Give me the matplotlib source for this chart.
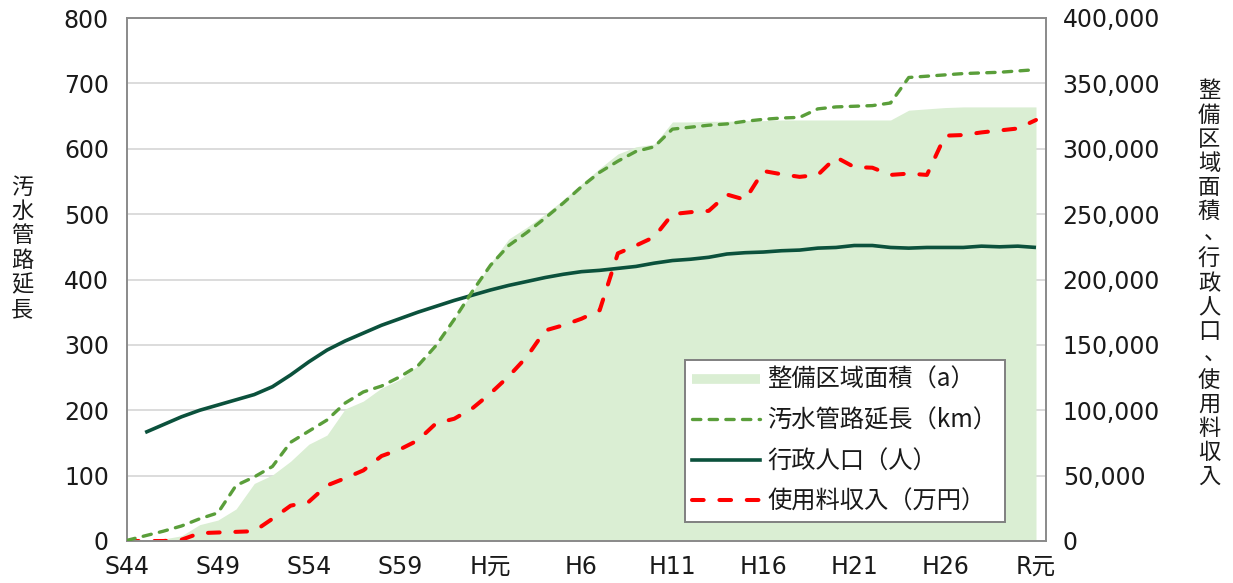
import matplotlib
matplotlib.use('Agg')
import numpy as np
import matplotlib.pyplot as plt
from matplotlib.lines import Line2D
from matplotlib.ticker import FuncFormatter, MultipleLocator
from matplotlib.font_manager import FontProperties

plt.rcParams['font.family'] = ['DejaVu Sans', 'Noto Sans CJK JP']

# ---------------- data ----------------
x_tick_labels = ['S44', 'S49', 'S54', 'S59', 'H元', 'H6', 'H11', 'H16', 'H21', 'H26', 'R元']
years = list(range(51))          # S44 (1969) ... R元 (2019)

# 汚水管路延長 (km) - left axis
sewer_km = [1, 8, 15, 23, 34, 43, 85, 98, 114, 151,
            168, 185, 211, 228, 237, 251, 268, 299, 339, 382,
            422, 452, 472, 494, 517, 542, 564, 581, 596, 603,
            630, 633, 636, 638, 642, 645, 647, 648, 661, 664,
            665, 666, 670, 709, 711, 713, 715, 716, 717, 719, 721]

# 整備区域面積 (a) - right axis
area_a = [0, 500, 1500, 4000, 12500, 16000, 24500, 44000, 50500, 61000,
          74000, 81000, 101000, 107000, 117000, 123500, 134000, 148500, 170000, 190000,
          212500, 231000, 240000, 250000, 261000, 273000, 285000, 296000, 301500, 303500,
          320500, 320500, 321000, 321000, 321500, 321500, 322000, 322000, 322000, 322000,
          322000, 322000, 322000, 329500, 330500, 331500, 332000, 332000, 332000, 332000, 332000]

# 行政人口 (人) - right axis (no value for S44)
population = [np.nan, 83000, 89000, 95000, 100000, 104000, 108000, 112000, 118000, 127000,
              137000, 146000, 153000, 159000, 165000, 170000, 175000, 179500, 184000, 188000,
              192000, 195500, 198500, 201500, 204000, 206000, 207000, 208500, 210000, 212500,
              214500, 215500, 217000, 219500, 220500, 221000, 222000, 222500, 224000, 224500,
              226000, 226000, 224500, 224000, 224500, 224500, 224500, 225500, 225000, 225500, 224500]

# 使用料収入 (万円) - right axis
revenue = [0, 0, 0, 1000, 6000, 6500, 7000, 7500, 17000, 27000,
           30000, 42500, 48000, 54000, 65000, 70000, 77000, 90000, 93500, 101500,
           113000, 126000, 141000, 161000, 165000, 170000, 176500, 220000, 226000, 232500,
           250000, 251500, 252500, 265000, 261000, 283000, 280500, 278500, 280000, 293500,
           286000, 285500, 280000, 281000, 280000, 310000, 310500, 312500, 314000, 315500, 322000]

series_labels = ['整備区域面積（a）', '汚水管路延長（km）', '行政人口（人）', '使用料収入（万円）']
left_title = '汚水管路延長'
right_title = '整備区域面積、行政人口、使用料収入'

# ---------------- style ----------------
FILL_C = '#daeed3'
GREEN_C = '#5a9e3a'
DARK_C = '#0b513c'
RED_C = '#ff0000'
SPINE_C = '#8a8a8a'
GRID_C = '#d9d9d9'
TXT_C = '#1a1a1a'

W, H = 1233, 583
fig = plt.figure(figsize=(W / 100, H / 100), dpi=100)
ax1 = fig.add_axes([127 / W, 42 / H, 919 / W, 523 / H])
ax2 = ax1.twinx()
ax1.set_zorder(2)
ax1.patch.set_visible(False)
ax2.set_zorder(1)

# back axes: grid, area, population, revenue
ax2.set_axisbelow(True)
ax2.yaxis.grid(True, color=GRID_C, lw=1.3)
ax2.fill_between(years, 0, area_a, color=FILL_C, lw=0, zorder=1)
ax2.plot(years, population, color=DARK_C, lw=2.6, zorder=3, solid_capstyle='butt')
ax2.plot(years, revenue, color=RED_C, lw=2.9, dashes=(2.9, 3.9),
         dash_capstyle='round', zorder=4)

# front axes: sewer length
ax1.plot(years, sewer_km, color=GREEN_C, lw=2.4, dashes=(2.5, 2.5),
         dash_capstyle='round', zorder=3)

xmax = 50.55
ax1.set_xlim(0, xmax)
ax2.set_xlim(0, xmax)
ax1.set_ylim(0, 800)
ax2.set_ylim(0, 400000)
ax1.yaxis.set_major_locator(MultipleLocator(100))
ax2.yaxis.set_major_locator(MultipleLocator(50000))
ax2.yaxis.set_major_formatter(FuncFormatter(lambda v, p: f'{int(v):,}'))
ax1.set_xticks(range(0, 51, 5))
ax1.set_xticklabels(x_tick_labels)

tick_fs = 17
ax1.tick_params(axis='y', length=0, pad=13, labelsize=tick_fs, labelcolor=TXT_C)
ax1.tick_params(axis='x', length=0, pad=10, labelsize=tick_fs, labelcolor=TXT_C)
ax2.tick_params(axis='y', length=0, pad=12, labelsize=tick_fs, labelcolor=TXT_C)

for s in ax2.spines.values():
    s.set_visible(False)
for s in ax1.spines.values():
    s.set_color(SPINE_C)
    s.set_linewidth(1.4)

# legend
handles = [
    Line2D([], [], color=FILL_C, lw=7, solid_capstyle='butt'),
    Line2D([], [], color=GREEN_C, lw=2.4, dashes=(2.5, 2.5), dash_capstyle='round'),
    Line2D([], [], color=DARK_C, lw=2.6),
    Line2D([], [], color=RED_C, lw=2.9, dashes=(2.9, 3.9), dash_capstyle='round'),
]
leg_font = FontProperties(family=['Noto Sans CJK JP', 'DejaVu Sans'], size=17.5)
leg = ax1.legend(handles, series_labels, loc='lower left',
                 bbox_to_anchor=(0.607, 0.036), borderaxespad=0,
                 prop=leg_font, handlelength=2.8, handletextpad=0.3,
                 labelspacing=0.6, borderpad=0.3, fancybox=False,
                 framealpha=1, edgecolor='#808080', facecolor='white')
leg.get_frame().set_linewidth(1.4)
for t in leg.get_texts():
    t.set_color(TXT_C)

# vertical axis titles (stacked characters)
cjk = ['Noto Sans CJK JP', 'DejaVu Sans']
def vertical_title(text, xc, y_first, pitch, fs):
    for i, ch in enumerate(text):
        y = y_first + i * pitch
        dx, dy = 0, 0
        if ch == '、':
            dx, dy = 6, -2
        fig.text((xc + dx) / W, 1 - (y + dy) / H, ch, ha='center', va='center',
                 fontsize=fs, family=cjk, color=TXT_C)

vertical_title(left_title, 22, 187, 24.5, 16)
vertical_title(right_title, 1209, 91, 24.1, 16)

fig.savefig('out.png', dpi=100)
